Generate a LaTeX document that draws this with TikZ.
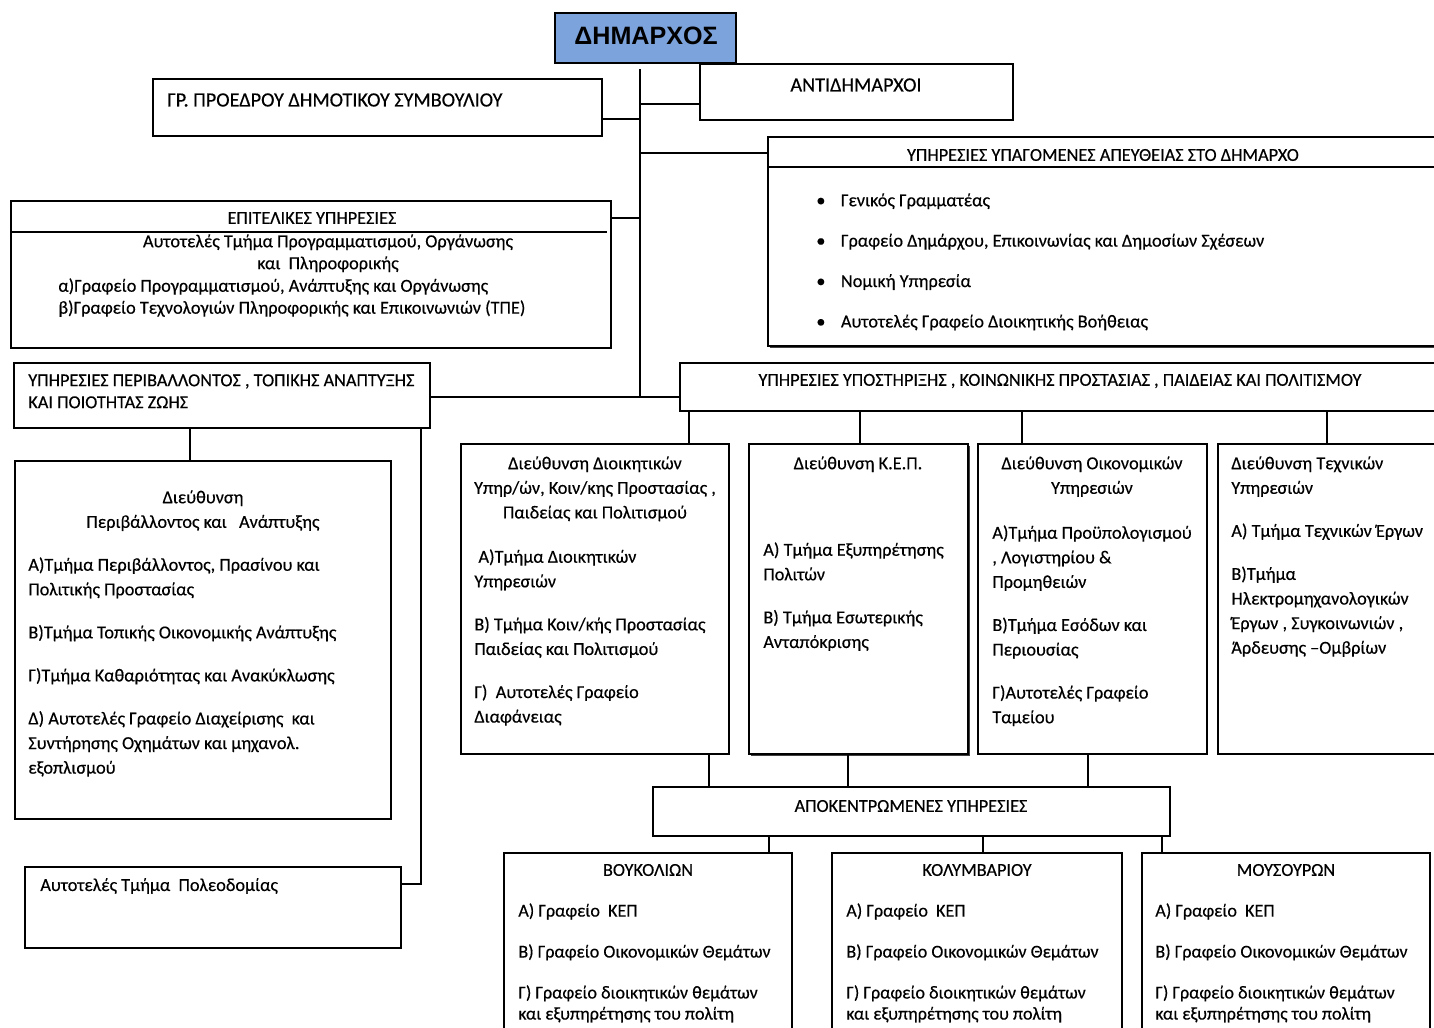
\documentclass[tikz,border=0pt]{standalone}
\usepackage{fontspec}
\setmainfont{Carlito}[FakeBold=0.35]
\newfontfamily\headfont{Liberation Sans}
\usetikzlibrary{positioning,fit,shadows}
\definecolor{mayorblue}{RGB}{124,163,219}

\tikzset{
  box/.style={draw, line width=0.8pt, inner sep=0pt, fill=white},
  shadowbox/.style={box, drop shadow={shadow xshift=1.2pt, shadow yshift=-1.2pt, fill=black!75, opacity=1}},
  txt/.style={inner sep=0pt, align=left, font=\fontsize{10.4}{14}\selectfont},
  ctxt/.style={txt, align=center},
  captxt/.style={inner sep=0pt, font=\fontsize{10.4}{12.5}\selectfont},
  bigcap/.style={inner sep=0pt, font=\fontsize{11.5}{14}\selectfont},
  link/.style={line width=0.8pt},
}

\begin{document}
\begin{tikzpicture}[x=0.02cm, y=-0.02cm]
  \useasboundingbox (0,0) rectangle (1434,1028);

  % top level
  \node (dim) [box, fill=mayorblue, fit={(555,13) (736,63)}] {};
  \node (dimt) [inner sep=0pt, font=\headfont\bfseries\fontsize{14.3}{17}\selectfont] at (646,36) {ΔΗΜΑΡΧΟΣ};
  \node (antid) [box, fit={(700,64) (1013,120)}] {};
  \node (antidt) [bigcap] at (856,85) {ΑΝΤΙΔΗΜΑΡΧΟΙ};
  \node (grp) [box, fit={(153,79) (602,136)}] {};
  \node (grpt) [bigcap, anchor=west] at (167,100) {ΓΡ. ΠΡΟΕΔΡΟΥ ΔΗΜΟΤΙΚΟΥ ΣΥΜΒΟΥΛΙΟΥ};

  \node (ypag) [shadowbox, fit={(768,137) (1445,346)}] {};
  \draw [link] (ypag.west |- 0,167) -- (ypag.east |- 0,167);
  \node (ypagt) [captxt] at (1103,155) {ΥΠΗΡΕΣΙΕΣ ΥΠΑΓΟΜΕΝΕΣ ΑΠΕΥΘΕΙΑΣ ΣΤΟ ΔΗΜΑΡΧΟ};
  \node (ypagl) [txt, anchor=north west] at (816,193) {%
    \makebox[14pt][l]{\textbullet}Γενικός Γραμματέας\\[9pt]
    \makebox[14pt][l]{\textbullet}Γραφείο Δημάρχου, Επικοινωνίας και Δημοσίων Σχέσεων\\[9pt]
    \makebox[14pt][l]{\textbullet}Νομική Υπηρεσία\\[9pt]
    \makebox[14pt][l]{\textbullet}Αυτοτελές Γραφείο Διοικητικής Βοήθειας};

  \node (epit) [box, fit={(11,201) (611,348)}] {};
  \draw [link] (epit.west |- 0,232) -- (607,232);
  \node (epitt) [captxt] at (312,218) {ΕΠΙΤΕΛΙΚΕΣ ΥΠΗΡΕΣΙΕΣ};
  \node (epitc) [ctxt, font=\fontsize{10.4}{12.5}\selectfont, anchor=north] at (328,234) {Αυτοτελές Τμήμα Προγραμματισμού, Οργάνωσης\\και\ \ Πληροφορικής};
  \node (epitl) [txt, font=\fontsize{10.4}{12.5}\selectfont, anchor=north west] at (58,278) {α)Γραφείο Προγραμματισμού, Ανάπτυξης και Οργάνωσης\\β)Γραφείο Τεχνολογιών Πληροφορικής και Επικοινωνιών (ΤΠΕ)};

  \node (periv) [box, fit={(14,363) (430,428)}] {};
  \node (perivt) [captxt, align=left, anchor=north west] at (28,374) {ΥΠΗΡΕΣΙΕΣ ΠΕΡΙΒΑΛΛΟΝΤΟΣ , ΤΟΠΙΚΗΣ ΑΝΑΠΤΥΞΗΣ\\ΚΑΙ ΠΟΙΟΤΗΤΑΣ ΖΩΗΣ};

  \node (ypost) [box, fit={(680,363) (1445,411)}] {};
  \node (ypostt) [captxt] at (1060,381) {ΥΠΗΡΕΣΙΕΣ ΥΠΟΣΤΗΡΙΞΗΣ , ΚΟΙΝΩΝΙΚΗΣ ΠΡΟΣΤΑΣΙΑΣ , ΠΑΙΔΕΙΑΣ ΚΑΙ ΠΟΛΙΤΙΣΜΟΥ};

  % left branch
  \node (dper) [box, fit={(15,461) (391,819)}] {};
  \node (dpert) [ctxt, anchor=north] at (203,490) {Διεύθυνση\\Περιβάλλοντος και\ \ \ Ανάπτυξης};
  \node (dperl) [txt, anchor=north west] at (28,557) {Α)Τμήμα Περιβάλλοντος, Πρασίνου και\\
    Πολιτικής Προστασίας\\[10.5pt]
    Β)Τμήμα Τοπικής Οικονομικής Ανάπτυξης\\[10.5pt]
    Γ)Τμήμα Καθαριότητας και Ανακύκλωσης\\[10.5pt]
    Δ) Αυτοτελές Γραφείο Διαχείρισης\ \ και\\
    Συντήρησης Οχημάτων και μηχανολ.\\
    εξοπλισμού};
  \node (poleo) [box, fit={(25,867) (401,948)}] {};
  \node (poleot) [txt, anchor=west] at (40,886) {Αυτοτελές Τμήμα\ \ Πολεοδομίας};

  % directorates
  \node (d1) [box, fit={(461,444) (729,754)}] {};
  \node (d1t) [ctxt, anchor=north] at (595,456) {Διεύθυνση Διοικητικών\\Υπηρ/ών, Κοιν/κης Προστασίας ,\\Παιδείας και Πολιτισμού};
  \node (d1l) [txt, anchor=north west] at (474,549) {\ Α)Τμήμα Διοικητικών\\Υπηρεσιών\\[10.5pt]
    Β) Τμήμα Κοιν/κής Προστασίας\\Παιδείας και Πολιτισμού\\[10.5pt]
    Γ)\ \ Αυτοτελές Γραφείο\\Διαφάνειας};

  \node (d2) [shadowbox, fit={(749,444) (968,754)}] {};
  \node (d2t) [ctxt, anchor=north] at (858,456) {Διεύθυνση Κ.Ε.Π.};
  \node (d2l) [txt, anchor=north west] at (763,542) {Α) Τμήμα Εξυπηρέτησης\\Πολιτών\\[10.5pt]
    Β) Τμήμα Εσωτερικής\\Ανταπόκρισης};

  \node (d3) [box, fit={(978,444) (1207,754)}] {};
  \node (d3t) [ctxt, anchor=north] at (1092,456) {Διεύθυνση Οικονομικών\\Υπηρεσιών};
  \node (d3l) [txt, anchor=north west] at (992,525) {Α)Τμήμα Προϋπολογισμού\\, Λογιστηρίου \&\\Προμηθειών\\[10.5pt]
    Β)Τμήμα Εσόδων και\\Περιουσίας\\[10.5pt]
    Γ)Αυτοτελές Γραφείο\\Ταμείου};

  \node (d4) [box, fit={(1218,444) (1445,754)}] {};
  \node (d4l) [txt, anchor=north west] at (1231,456) {Διεύθυνση Τεχνικών\\Υπηρεσιών\\[10.5pt]
    Α) Τμήμα Τεχνικών Έργων\\[10.5pt]
    Β)Τμήμα\\Ηλεκτρομηχανολογικών\\Έργων , Συγκοινωνιών ,\\Άρδευσης –Ομβρίων};

  % decentralised services
  \node (apok) [box, fit={(653,787) (1170,836)}] {};
  \node (apokt) [captxt] at (911,806) {ΑΠΟΚΕΝΤΡΩΜΕΝΕΣ ΥΠΗΡΕΣΙΕΣ};

  \node (vouk) [box, fit={(504,853) (792,1040)}] {};
  \node (voukt) [captxt] at (648,870) {ΒΟΥΚΟΛΙΩΝ};
  \node (voukl) [txt, font=\fontsize{10.3}{12}\selectfont, anchor=north west] at (518,903) {Α) Γραφείο\ \ ΚΕΠ\\[11.3pt]
    Β) Γραφείο Οικονομικών Θεμάτων\\[11.3pt]
    Γ) Γραφείο διοικητικών θεμάτων\\και εξυπηρέτησης του πολίτη};

  \node (kolym) [box, fit={(832,853) (1122,1040)}] {};
  \node (kolymt) [captxt] at (977,870) {ΚΟΛΥΜΒΑΡΙΟΥ};
  \node (kolyml) [txt, font=\fontsize{10.3}{12}\selectfont, anchor=north west] at (846,903) {Α) Γραφείο\ \ ΚΕΠ\\[11.3pt]
    Β) Γραφείο Οικονομικών Θεμάτων\\[11.3pt]
    Γ) Γραφείο διοικητικών θεμάτων\\και εξυπηρέτησης του πολίτη};

  \node (mous) [box, fit={(1142,853) (1430,1040)}] {};
  \node (moust) [captxt] at (1286,870) {ΜΟΥΣΟΥΡΩΝ};
  \node (mousl) [txt, font=\fontsize{10.3}{12}\selectfont, anchor=north west] at (1155,903) {Α) Γραφείο\ \ ΚΕΠ\\[11.3pt]
    Β) Γραφείο Οικονομικών Θεμάτων\\[11.3pt]
    Γ) Γραφείο διοικητικών θεμάτων\\και εξυπηρέτησης του πολίτη};

  % trunk and connectors
  \coordinate (tr0) at (640,69);
  \coordinate (tr1) at (640,397);
  \draw [link] (tr0) -- (tr1);
  \coordinate (jA) at (640,104);
  \coordinate (jG) at (640,119);
  \coordinate (jY) at (640,153);
  \coordinate (jE) at (640,218);
  \draw [link] (jA) -- (antid.west |- jA);
  \draw [link] (jG) -- (grp.east |- jG);
  \draw [link] (jY) -- (ypag.west |- jY);
  \draw [link] (jE) -- (epit.east |- jE);
  \draw [link] (periv.east |- tr1) -- (ypost.west |- tr1);

  \draw [link] (periv.south -| 190,0) -- (dper.north -| 190,0);
  \draw [link] (periv.south -| 421,0) |- (poleo.east |- 0,884);

  \draw [link] (ypost.south -| 689,0) -- (d1.north -| 689,0);
  \draw [link] (ypost.south -| 860,0) -- (d2.north -| 860,0);
  \draw [link] (ypost.south -| 1022,0) -- (d3.north -| 1022,0);
  \draw [link] (ypost.south -| 1327,0) -- (d4.north -| 1327,0);

  \draw [link] (d1.south -| 709,0) -- (apok.north -| 709,0);
  \draw [link] (d2.south -| 848,0) -- (apok.north -| 848,0);
  \draw [link] (d3.south -| 1088,0) -- (apok.north -| 1088,0);

  \draw [link] (apok.south -| 769,0) -- (vouk.north -| 769,0);
  \draw [link] (apok.south -| 983,0) -- (kolym.north -| 983,0);
  \draw [link] (apok.south -| 1162,0) -- (mous.north -| 1162,0);
\end{tikzpicture}
\end{document}
